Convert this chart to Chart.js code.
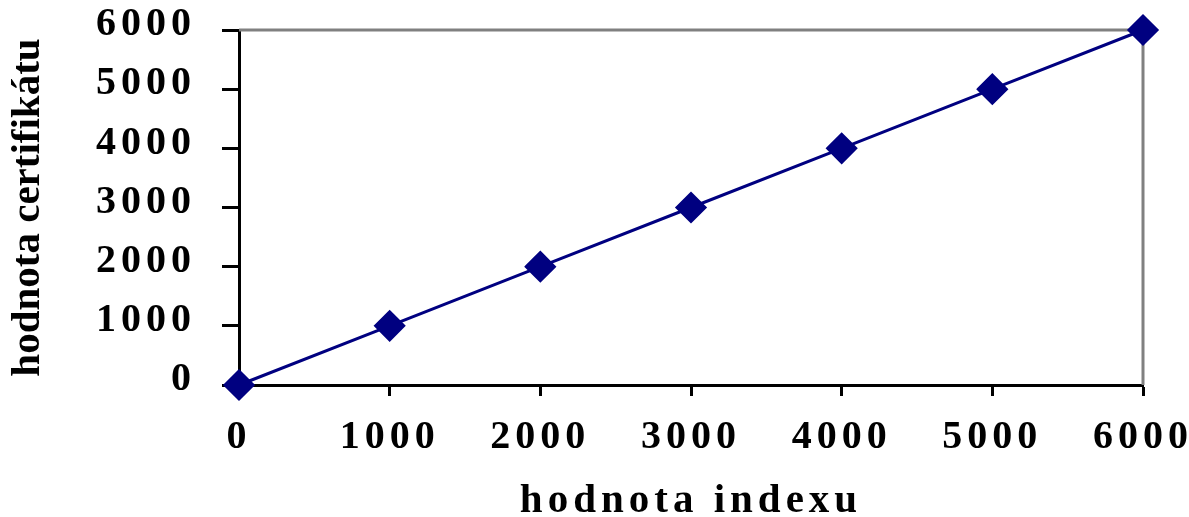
<!DOCTYPE html>
<html>
<head>
<meta charset="utf-8">
<script src="https://cdn.jsdelivr.net/npm/chart.js@4.4.1/dist/chart.umd.min.js"></script>
<style>
  html, body { margin: 0; padding: 0; background: #fff; }
  #wrap { width: 1189px; height: 517px; }
</style>
</head>
<body>
<div id="wrap"><canvas id="myChart" width="1189" height="517"></canvas></div>
<script>
var indexValues = [0, 1000, 2000, 3000, 4000, 5000, 6000];
var certValues = [0, 1000, 2000, 3000, 4000, 5000, 6000];
var tickValues = [0, 1000, 2000, 3000, 4000, 5000, 6000];

var points = indexValues.map(function(x, i) {
    return { x: x, y: certValues[i] };
});

// spaced out digits like the original
var origDrawLabels = Chart.Scale.prototype.drawLabels;
Chart.Scale.prototype.drawLabels = function(chartArea) {
    this.ctx.save();
    this.ctx.letterSpacing = '5px';
    origDrawLabels.call(this, chartArea);
    this.ctx.restore();
};
var origDrawTitle = Chart.Scale.prototype.drawTitle;
Chart.Scale.prototype.drawTitle = function() {
    this.ctx.save();
    this.ctx.letterSpacing = this.axis === 'x' ? '5px' : '0px';
    origDrawTitle.call(this);
    this.ctx.restore();
};

// grey top and right edges of the plot box
var frameLines = {
    id: 'frameLines',
    beforeDatasetsDraw: function(chart) {
        var a = chart.chartArea;
        var ctx = chart.ctx;
        ctx.save();
        ctx.strokeStyle = '#808080';
        ctx.lineWidth = 3;
        ctx.beginPath();
        ctx.moveTo(a.left, a.top);
        ctx.lineTo(a.right, a.top);
        ctx.lineTo(a.right, a.bottom);
        ctx.stroke();
        ctx.restore();
    }
};

var plainLabel = function(value) { return String(value); };

var tickFont = { family: '"Liberation Serif", "Times New Roman", serif', size: 40, weight: 'bold' };
var titleFont = { family: '"Liberation Serif", "Times New Roman", serif', size: 41, weight: 'bold', lineHeight: 1 };

var ctx = document.getElementById('myChart').getContext('2d');
var myChart = new Chart(ctx, {
    type: 'scatter',
    data: {
        datasets: [{
            data: points,
            showLine: true,
            borderColor: '#000080',
            backgroundColor: '#000080',
            borderWidth: 3,
            pointStyle: 'rectRot',
            pointRadius: 14,
            pointHoverRadius: 14,
            clip: false
        }]
    },
    options: {
        responsive: false,
        animation: false,
        events: [],
        layout: { padding: { left: 0, right: 46, top: 30, bottom: 0 } },
        plugins: {
            legend: { display: false },
            tooltip: { enabled: false }
        },
        scales: {
            x: {
                type: 'linear',
                min: 0,
                max: 6000,
                afterBuildTicks: function(scale) {
                    scale.ticks = tickValues.map(function(v) { return { value: v }; });
                },
                afterFit: function(scale) {
                    scale.height = 132;
                    scale.paddingLeft = 0;
                    scale.paddingRight = 0;
                },
                grid: { drawOnChartArea: false, tickLength: 11, tickWidth: 3, tickColor: '#000' },
                border: { color: '#000', width: 3 },
                ticks: { color: '#000', font: tickFont, padding: 18, maxRotation: 0, callback: plainLabel },
                title: {
                    display: true,
                    text: 'hodnota indexu',
                    color: '#000',
                    font: titleFont,
                    padding: { top: 0, bottom: -5 }
                }
            },
            y: {
                type: 'linear',
                min: 0,
                max: 6000,
                afterBuildTicks: function(scale) {
                    scale.ticks = tickValues.map(function(v) { return { value: v }; });
                },
                afterFit: function(scale) {
                    scale.width = 239;
                    scale.paddingTop = 0;
                    scale.paddingBottom = 0;
                },
                grid: { drawOnChartArea: false, tickLength: 17, tickWidth: 3, tickColor: '#000' },
                border: { color: '#000', width: 3 },
                ticks: { color: '#000', font: tickFont, padding: 26, labelOffset: -5, callback: plainLabel },
                title: {
                    display: true,
                    text: 'hodnota certifikátu',
                    color: '#000',
                    font: titleFont,
                    padding: { top: 8, bottom: 0 }
                }
            }
        }
    },
    plugins: [frameLines]
});
</script>
</body>
</html>
